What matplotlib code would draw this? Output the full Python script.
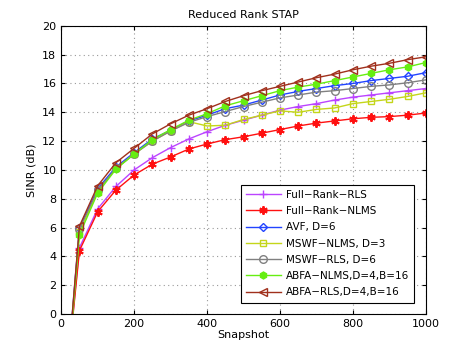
import matplotlib.pyplot as plt

# Snapshot index (first point lies far below the axis, as in the original)
snapshots = [1] + list(range(50, 1001, 50))

full_rls = [-8, 4.6, 7.3, 8.85, 10.0, 10.85, 11.55, 12.15, 12.65, 13.1, 13.45,
            13.8, 14.15, 14.4, 14.6, 14.85, 15.05, 15.2, 15.35, 15.5, 15.65]
full_nlms = [-8, 4.4, 7.1, 8.6, 9.65, 10.4, 10.9, 11.45, 11.8, 12.1, 12.3,
             12.55, 12.8, 13.05, 13.25, 13.4, 13.55, 13.65, 13.7, 13.8, 13.95]
avf = [-9, 6.0, 8.7, 10.2, 11.2, 12.15, 12.75, 13.4, 13.8, 14.25, 14.5,
       14.85, 15.2, 15.45, 15.65, 15.85, 16.0, 16.2, 16.35, 16.5, 16.75]
mswf_nlms = [-9, 5.7, 8.5, 10.1, 11.1, 12.0, 12.7, 13.35, 13.05, 13.1, 13.5,
             13.8, 14.1, 14.0, 14.2, 14.3, 14.6, 14.75, 14.9, 15.1, 15.35]
mswf_rls = [-9, 5.9, 8.6, 10.1, 11.1, 12.0, 12.7, 13.3, 13.7, 14.05, 14.4,
            14.7, 15.0, 15.2, 15.4, 15.5, 15.65, 15.8, 15.9, 16.05, 16.25]
abfa_nlms = [-9, 5.5, 8.4, 10.05, 11.1, 12.1, 12.8, 13.45, 13.9, 14.45, 14.8,
             15.15, 15.5, 15.75, 15.95, 16.2, 16.45, 16.7, 16.95, 17.15, 17.45]
abfa_rls = [-9, 6.1, 8.9, 10.5, 11.5, 12.5, 13.2, 13.8, 14.25, 14.75, 15.15,
            15.5, 15.8, 16.1, 16.4, 16.65, 16.95, 17.2, 17.4, 17.65, 17.85]

fig = plt.figure(figsize=(4.71, 3.54), dpi=100)
ax = fig.add_axes([0.13, 0.113, 0.774, 0.814])

ax.plot(snapshots, full_rls, color='#bb44ff', marker='+', ms=6, lw=1,
        label='Full\u2212Rank\u2212RLS')
ax.plot(snapshots, full_nlms, color='#ff1010', marker=(6, 2, 0), ms=6, mew=1.4, lw=1,
        label='Full\u2212Rank\u2212NLMS')
ax.plot(snapshots, avf, color='#2244ff', marker='D', ms=4.5, mfc='none', mew=1, lw=1,
        label='AVF, D=6')
ax.plot(snapshots, mswf_nlms, color='#c4d61a', marker='s', ms=5, mfc='none', mew=1, lw=1,
        label='MSWF\u2212NLMS, D=3')
ax.plot(snapshots, mswf_rls, color='#808080', marker='o', ms=5.5, mfc='none', mew=1, lw=1,
        label='MSWF\u2212RLS, D=6')
ax.plot(snapshots, abfa_nlms, color='#66ee11', marker='h', ms=5, mew=1, lw=1,
        label='ABFA\u2212NLMS,D=4,B=16')
ax.plot(snapshots, abfa_rls, color='#a0301c', marker='<', ms=6, mfc='none', mew=1, lw=1,
        label='ABFA\u2212RLS,D=4,B=16')

ax.set_xlim(0, 1000)
ax.set_ylim(0, 20)
ax.set_xticks(range(0, 1001, 200))
ax.set_yticks(range(0, 21, 2))
ax.tick_params(direction='in', top=True, right=True, labelsize=8, length=3)
ax.grid(True, linestyle=(0, (1, 3)), color='#999999', linewidth=0.8)

ax.set_title('Reduced Rank STAP', fontsize=8)
ax.set_xlabel('Snapshot', fontsize=8, labelpad=1)
ax.set_ylabel('SINR (dB)', fontsize=8)

leg = ax.legend(loc='lower right', fontsize=7.5, fancybox=False, edgecolor='black',
                framealpha=1, handlelength=3.3, borderaxespad=1.1, labelspacing=0.6,
                handletextpad=0.5, borderpad=0.5)
leg.get_frame().set_linewidth(0.8)

fig.savefig('out.png', dpi=100)
